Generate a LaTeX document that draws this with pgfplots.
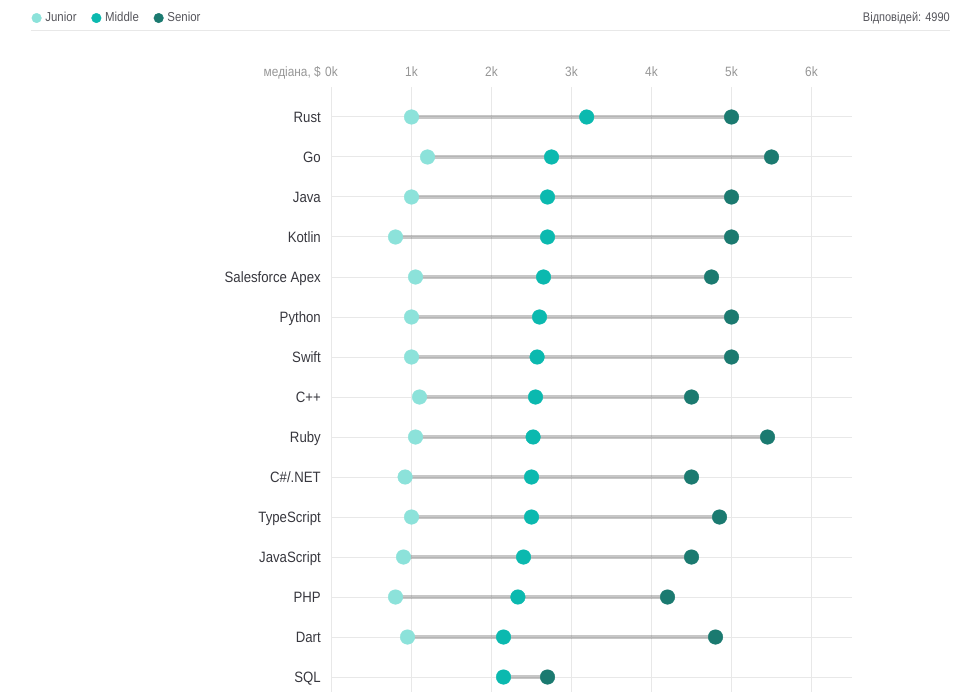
\documentclass[border=0pt]{standalone}
\usepackage{fontspec}
\setmainfont[FakeStretch=0.88]{Liberation Sans}
\usepackage{pgfplots}
\usepackage{pgfplotstable}
\pgfplotsset{compat=1.18}
\definecolor{jun}{RGB}{140,226,218}
\definecolor{mid}{RGB}{11,185,175}
\definecolor{sen}{RGB}{27,122,112}
\definecolor{gridc}{RGB}{232,232,232}
\definecolor{labc}{RGB}{55,55,62}
\definecolor{tickc}{RGB}{150,150,150}
\pgfplotstableread{
i  J     M     S     lo
14 1.00  3.19  5.00  1.00
13 1.20  2.75  5.50  1.20
12 1.00  2.70  5.00  1.00
11 0.80  2.70  5.00  0.80
10 1.05  2.65  4.75  1.05
9  1.00  2.60  5.00  1.00
8  1.00  2.57  5.00  1.00
7  1.10  2.55  4.50  1.10
6  1.05  2.52  5.45  1.05
5  0.92  2.50  4.50  0.92
4  1.00  2.50  4.85  1.00
3  0.90  2.40  4.50  0.90
2  0.80  2.33  4.20  0.80
1  0.95  2.15  4.80  0.95
0  nan   2.15  2.70  2.15
}\datatable
\begin{document}
\begin{tikzpicture}
\path[use as bounding box] (0pt,0pt) rectangle (976pt,-692pt);
\begin{axis}[
  at={(331.5pt,-87pt)}, anchor=north west,
  scale only axis, width=520pt, height=605pt,
  xmin=0, xmax=6.5, ymin=-0.375, ymax=14.75,
  axis line style={draw=none},
  major tick length=0pt, tick style={draw=none},
  xtick={0,1,2,3,4,5,6},
  xticklabels={0k,1k,2k,3k,4k,5k,6k},
  xticklabel pos=upper,
  xticklabel style={anchor=base, yshift=10.5pt, font=\fontsize{13.5}{15}\selectfont, text=tickc},
  ytick={0,...,14},
  yticklabels={SQL,Dart,PHP,JavaScript,TypeScript,C\#/.NET,Ruby,C++,Swift,Python,Salesforce Apex,Kotlin,Java,Go,Rust},
  yticklabel style={anchor=base east, inner sep=0pt, xshift=-10.5pt, yshift=-5.2pt, font=\fontsize{15}{17}\selectfont, text=labc},
  xmajorgrids, ymajorgrids,
  grid style={color=gridc, line width=1pt},
  clip=false,
  legend style={at={(-0.5767,1.1140)}, anchor=west, draw=none, fill=none, inner sep=0pt,
    legend columns=-1, font=\fontsize{13}{15}\selectfont, text=labc!85,
    nodes={inner sep=0pt},
    /tikz/every odd column/.append style={column sep=4pt},
    /tikz/every even column/.append style={column sep=15pt}},
  legend image code/.code={\draw[#1, mark size=4.8pt] plot coordinates {(5pt,0pt)};},
]
\addplot[forget plot, only marks, mark=none,
  error bars/.cd, x dir=plus, x explicit, error mark=none,
  error bar style={line width=4pt, black, opacity=0.22}]
  table[x=lo, y=i, x error expr=\thisrow{S}-\thisrow{lo}] {\datatable};
\addplot[only marks, mark=*, mark size=7.3pt, color=jun, fill=jun, line width=0.4pt]
  table[x=J, y=i] {\datatable};
\addlegendentry{Junior}
\addplot[only marks, mark=*, mark size=7.3pt, color=mid, fill=mid, line width=0.4pt]
  table[x=M, y=i] {\datatable};
\addlegendentry{Middle}
\addplot[only marks, mark=*, mark size=7.3pt, color=sen, fill=sen, line width=0.4pt]
  table[x=S, y=i] {\datatable};
\addlegendentry{Senior}
\end{axis}
\node[anchor=base east, inner sep=0pt, font=\fontsize{13.5}{15}\selectfont, text=tickc] at (321pt,-76.5pt) {медіана, \$};
\node[anchor=base east, inner sep=0pt, font=\fontsize{12.5}{14}\selectfont, text=labc!85] at (950pt,-22pt) {Відповідей: 4990};
\draw[gridc, line width=1pt] (31pt,-31pt) -- (950pt,-31pt);
\end{tikzpicture}
\end{document}
